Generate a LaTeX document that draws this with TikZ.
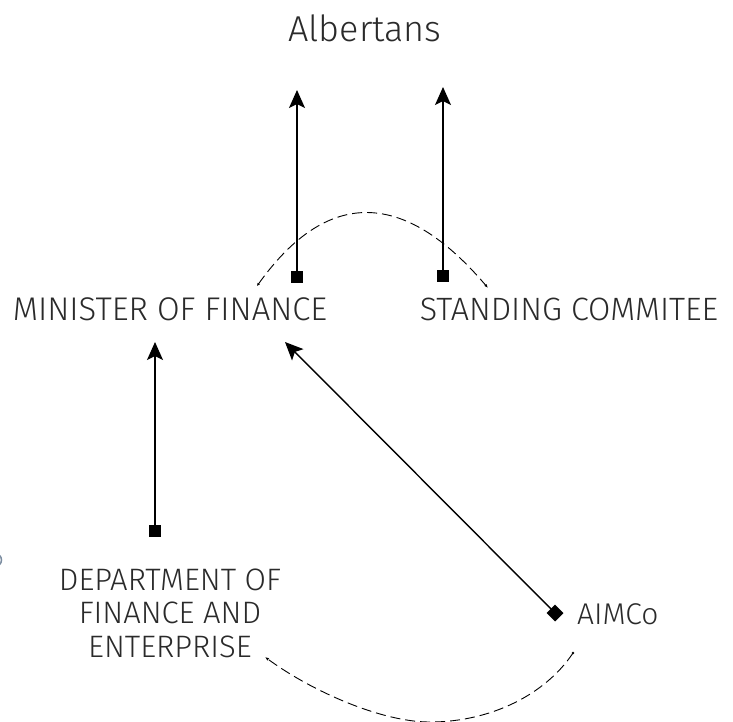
\documentclass[tikz,border=0pt]{standalone}
\usepackage{fontspec}
\setmainfont{Fira Sans Light}
\usetikzlibrary{arrows.meta}
\definecolor{inkgray}{HTML}{2A2A2A}
\definecolor{edgeblue}{HTML}{7A8CA0}
\tikzset{
  label text/.style={inner sep=0pt, text=inkgray, anchor=base, align=center},
  link/.style={line width=1.4pt, -{Stealth[length=18pt,width=16pt,inset=4pt]}},
  loop link/.style={line width=0.9pt, dash pattern=on 10pt off 5pt,
    {Latex[length=3pt,width=3pt]}-{Latex[length=4pt,width=3pt]}},
  sq end/.style={fill=black, inner sep=0pt, minimum size=12.5pt},
  dia end/.style={fill=black, inner sep=0pt, minimum size=12pt, rotate=45}
}
\begin{document}
\begin{tikzpicture}[x=1pt,y=-1pt]
  \useasboundingbox (0,0) rectangle (733,721);

  % labels
  \node[label text, font=\fontsize{36}{42}\selectfont] (alb) at (365,41) {Albertans};
  \node[label text, font=\fontsize{32.8}{38}\selectfont] (min) at (170,320) {MINISTER OF FINANCE};
  \node[label text, font=\fontsize{32.3}{38}\selectfont] (sc) at (569,320) {STANDING COMMITEE};
  \node[label text, font=\fontsize{31}{33.5}\selectfont] (dept) at (170,657)
    {DEPARTMENT OF\\FINANCE AND\\ENTERPRISE};
  \node[label text, font=\fontsize{30}{33}\selectfont, anchor=base west] (aimco) at (577,624) {AIMCo};

  % end markers of the reporting lines
  \node[sq end] (sqmin) at (297,277) {};
  \node[sq end] (sqsc) at (443,276) {};
  \node[sq end] (sqdept) at (155,531) {};
  \node[dia end] (dia) at (555,613) {};

  % free ends of the connectors
  \coordinate (upmin) at (297,90);
  \coordinate (upsc) at (443,87);
  \coordinate (intomin) at (155,342);
  \coordinate (fromaimco) at (285,342);
  \coordinate (topL) at (257,286);
  \coordinate (topR) at (488,288);
  \coordinate (botR) at (573,653);
  \coordinate (botM) at (430,722);
  \coordinate (botL) at (265,657);

  % accountability arrows
  \draw[link] (sqmin.center) -- (upmin);
  \draw[link] (sqsc.center) -- (upsc);
  \draw[link] (sqdept.center) -- (intomin);
  \draw[link] (dia.center) -- (fromaimco);

  % dashed cycles
  \draw[loop link] (topL) .. controls (327,188) and (404,189) .. (topR);
  \draw[line width=0.9pt, dash pattern=on 10pt off 5pt, -{Latex[length=4pt,width=3pt]}]
    (botR) .. controls (545,695) and (490,722) .. (botM)
           .. controls (380,722) and (310,690) .. (botL);
  \fill (botR) circle (1.3pt);

  % partial ring at the left edge
  \draw[edgeblue, line width=1.5pt] (-5,560) circle (6.5);
\end{tikzpicture}
\end{document}
